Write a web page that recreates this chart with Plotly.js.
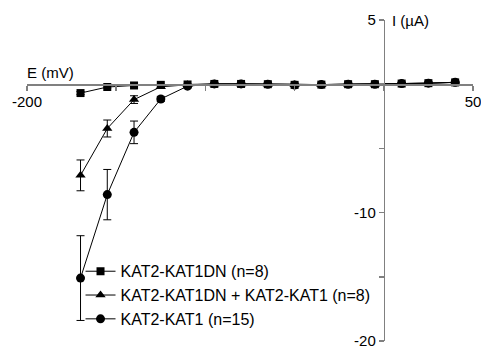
<!DOCTYPE html>
<html>
<head>
<meta charset="utf-8">
<script src="https://cdn.plot.ly/plotly-3.0.1.min.js"></script>
<style>html,body{margin:0;padding:0;background:#fff;}#chart{width:481px;height:349px;}</style>
</head>
<body>
<div id="chart"></div>
<script>
const voltages = [-170, -155, -140, -125, -110, -95, -80, -65, -50, -35, -20, -5, 10, 25, 40];

const dnCurrent   = [-0.69, -0.22, -0.10, -0.05, -0.02, 0.02, 0.02, 0.00, -0.05, -0.03, 0.00, 0.00, 0.05, 0.08, 0.14];
const dnErr       = [0.12, 0.08, 0.05, 0.04, 0.03, 0.03, 0.03, 0.03, 0.03, 0.03, 0.03, 0.03, 0.03, 0.03, 0.04];

const mixCurrent  = [-7.10, -3.45, -1.20, -0.20, -0.05, 0.02, 0.02, 0.00, -0.05, -0.03, 0.00, 0.00, 0.05, 0.08, 0.14];
const mixErr      = [1.20, 0.66, 0.30, 0.10, 0.04, 0.03, 0.03, 0.03, 0.03, 0.03, 0.03, 0.03, 0.03, 0.03, 0.04];

const wtCurrent   = [-15.10, -8.60, -3.75, -1.15, -0.15, 0.02, 0.02, 0.00, -0.06, -0.03, 0.00, 0.00, 0.05, 0.08, 0.15];
const wtErr       = [3.30, 1.96, 0.88, 0.20, 0.05, 0.03, 0.03, 0.03, 0.03, 0.03, 0.03, 0.03, 0.03, 0.03, 0.04];

const seriesNames = ['KAT2-KAT1DN (n=8)', 'KAT2-KAT1DN + KAT2-KAT1 (n=8)', 'KAT2-KAT1 (n=15)'];

const xTickVals = [-200, -150, -100, -50, 0, 50];
const xTickText = ['-200', '', '', '', '', '50'];
const yTickVals = [5, 0, -5, -10, -15, -20];
const yTickText = ['5', '', '', '-10', '', '-20'];

const xRange = [-200, 50];
const yRange = [-20, 5];

function trace(y, err, name, symbol, size) {
  return {
    x: voltages, y: y, name: name, type: 'scatter', mode: 'lines+markers',
    line: {color: '#000', width: 1},
    marker: {color: '#000', symbol: symbol, size: size},
    error_y: {type: 'data', array: err, visible: true, color: '#000', thickness: 1, width: 4},
    cliponaxis: false
  };
}

const data = [
  trace(dnCurrent, dnErr, seriesNames[0], 'square', 8),
  trace(mixCurrent, mixErr, seriesNames[1], 'triangle-up', 9),
  trace(wtCurrent, wtErr, seriesNames[2], 'circle', 9)
];

const fnt = {family: 'Liberation Sans, Arial, sans-serif', size: 15, color: '#000'};
const legFnt = {family: 'Liberation Sans, Arial, sans-serif', size: 16, color: '#000'};

const layout = {
  width: 481, height: 349,
  margin: {l: 27, r: 8, t: 20, b: 8},
  paper_bgcolor: '#fff', plot_bgcolor: '#fff',
  font: fnt,
  showlegend: true,
  legend: {
    x: 0.12, y: 0.27, xanchor: 'left', yanchor: 'top',
    bgcolor: 'rgba(0,0,0,0)', font: legFnt, itemwidth: 30
  },
  xaxis: {
    range: xRange, domain: [0, 1], anchor: 'free',
    position: (0 - yRange[0]) / (yRange[1] - yRange[0]),
    showgrid: false, zeroline: false, showline: true,
    linecolor: '#808080', linewidth: 1.5,
    ticks: 'outside', ticklen: 5, tickcolor: '#808080', tickwidth: 1.5,
    tickmode: 'array', tickvals: xTickVals, ticktext: xTickText,
    tickfont: fnt, automargin: false, ticklabeloverflow: 'allow', ticklabelstandoff: -2
  },
  yaxis: {
    range: yRange, domain: [0, 1], anchor: 'free',
    position: (0 - xRange[0]) / (xRange[1] - xRange[0]),
    showgrid: false, zeroline: false, showline: true,
    linecolor: '#808080', linewidth: 1.5,
    ticks: 'outside', ticklen: 5, tickcolor: '#808080', tickwidth: 1.5,
    tickmode: 'array', tickvals: yTickVals, ticktext: yTickText,
    tickfont: fnt, automargin: false, ticklabeloverflow: 'allow'
  },
  annotations: [
    {text: 'E (mV)', x: -200, y: 0, xref: 'x', yref: 'y', xanchor: 'left', yanchor: 'bottom',
     showarrow: false, font: fnt, yshift: 1, xshift: -2},
    {text: 'I (µA)', x: 0, y: 5, xref: 'x', yref: 'y', xanchor: 'left', yanchor: 'middle',
     showarrow: false, font: fnt, xshift: 6}
  ]
};

Plotly.newPlot('chart', data, layout, {displayModeBar: false, staticPlot: true});
</script>
</body>
</html>
